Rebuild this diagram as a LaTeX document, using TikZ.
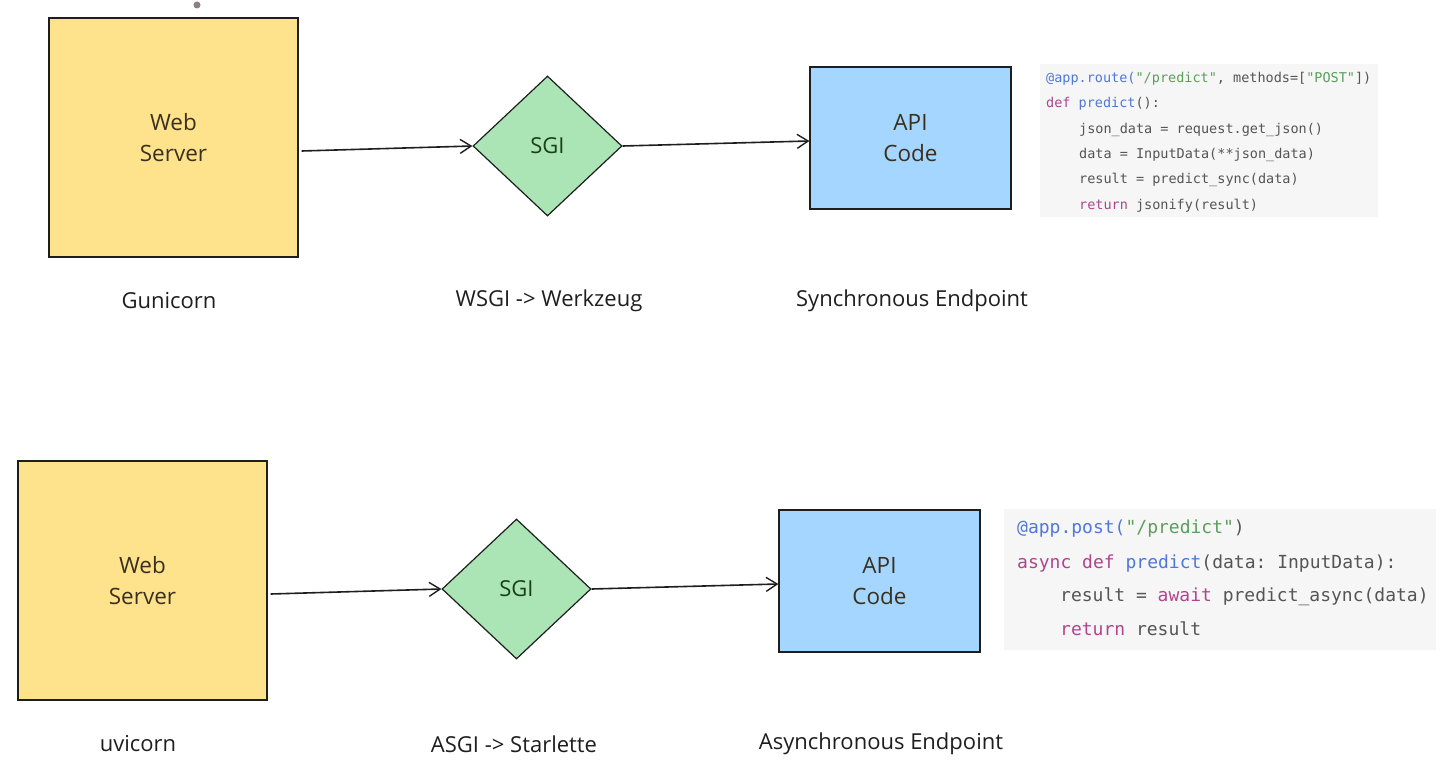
\documentclass[tikz,border=0pt]{standalone}
\usepackage{fontspec}
\setmainfont{Open Sans}
\setmonofont{DejaVu Sans Mono}
\usetikzlibrary{shapes.geometric,arrows.meta}
\definecolor{ink}{HTML}{1E1E1E}
\definecolor{boxtext}{HTML}{3A3020}
\definecolor{yel}{HTML}{FEE38C}
\definecolor{grn}{HTML}{ABE5B5}
\definecolor{blu}{HTML}{A5D6FF}
\definecolor{codebg}{HTML}{F6F6F6}
\definecolor{cgray}{HTML}{555555}
\definecolor{cblue}{HTML}{4F78D8}
\definecolor{cgreen}{HTML}{5C9E5C}
\definecolor{cpink}{HTML}{B0458E}
\definecolor{dotc}{HTML}{8E7E88}
\tikzset{
  srvbox/.style={draw=ink, line width=1.2bp, fill=yel, minimum width=249bp, minimum height=239bp, inner sep=0pt, align=center, text=boxtext, font=\fontsize{22.5bp}{31bp}\selectfont},
  apibox/.style={draw=ink, line width=1.2bp, fill=blu, minimum width=201bp, minimum height=142bp, inner sep=0pt, align=center, text=boxtext, font=\fontsize{22.5bp}{31bp}\selectfont},
  sgibox/.style={diamond, draw=ink, line width=1.2bp, fill=grn, minimum width=149bp, minimum height=140bp, aspect=1.06, inner sep=0pt, text=ink!85!green, font=\fontsize{22bp}{25bp}\selectfont},
  lbl/.style={text=ink, font=\fontsize{22bp}{26bp}\selectfont},
  flow/.style={draw=ink, line width=1.6bp, -{Straight Barb[length=11bp, width=14bp, line width=1.4bp]}},
  codebox/.style={fill=codebg, draw=none, inner sep=0pt},
  codeA/.style={anchor=west, inner sep=0pt, text=cgray, font=\ttfamily\fontsize{13.5bp}{16bp}\selectfont},
  codeB/.style={anchor=west, inner sep=0pt, text=cgray, font=\ttfamily\fontsize{18bp}{21bp}\selectfont},
}
\begin{document}
\begin{tikzpicture}[x=1bp, y=-1bp]
\useasboundingbox (0,0) rectangle (1456,769);

% cursor dot
\fill[dotc] (197,5) circle (3.5bp);

% ---------- top row ----------
\node[srvbox] (ws1) at (173.5,137.5) {Web\\Server};
\node[sgibox] (sgi1) at (547.5,146) {SGI};
\node[apibox] (api1) at (910.5,138) {API\\Code};
\draw[flow] ([xshift=3bp,yshift=-13.5bp]ws1.east) -- (sgi1.west);
\draw[flow] (sgi1.east) -- ([yshift=-3bp]api1.west);

\node[lbl] (l1) at (169,301) {Gunicorn};
\node[lbl] (l2) at (549,301) {WSGI -> Werkzeug};
\node[lbl] (l3) at (912,301) {Synchronous Endpoint};

\node[codebox, minimum width=338bp, minimum height=153bp] (cb1) at (1209,140.5) {};
\node[codeA] (c11) at (1046,79) {\strut\textcolor{cblue}{@app.route(}\textcolor{cgreen}{"/predict"}, methods=[\textcolor{cgreen}{"POST"}])};
\node[codeA] (c12) at (1046,104) {\strut\textcolor{cpink}{def} \textcolor{cblue}{predict}():};
\node[codeA] (c13) at (1079,130) {\strut json\_data = request.get\_json()};
\node[codeA] (c14) at (1079,155) {\strut data = InputData(**json\_data)};
\node[codeA] (c15) at (1079,180) {\strut result = predict\_sync(data)};
\node[codeA] (c16) at (1079,206) {\strut\textcolor{cpink}{return} jsonify(result)};

% ---------- bottom row ----------
\node[srvbox] (ws2) at (142.5,580.5) {Web\\Server};
\node[sgibox] (sgi2) at (516.5,589) {SGI};
\node[apibox] (api2) at (879.5,581) {API\\Code};
\draw[flow] ([xshift=3bp,yshift=-13.5bp]ws2.east) -- (sgi2.west);
\draw[flow] (sgi2.east) -- ([yshift=-3bp]api2.west);

\node[lbl] (l4) at (138,744) {uvicorn};
\node[lbl] (l5) at (514,744) {ASGI -> Starlette};
\node[lbl] (l6) at (881,744) {Asynchronous Endpoint};

\node[codebox, minimum width=432bp, minimum height=141bp] (cb2) at (1220,579.5) {};
\node[codeB] (c21) at (1017,529) {\strut\textcolor{cblue}{@app.post(}\textcolor{cgreen}{"/predict"})};
\node[codeB] (c22) at (1017,564) {\strut\textcolor{cpink}{async} \textcolor{cpink}{def} \textcolor{cblue}{predict}(data: InputData):};
\node[codeB] (c23) at (1060,597) {\strut result = \textcolor{cpink}{await} predict\_async(data)};
\node[codeB] (c24) at (1060,631) {\strut\textcolor{cpink}{return} result};
\end{tikzpicture}
\end{document}
